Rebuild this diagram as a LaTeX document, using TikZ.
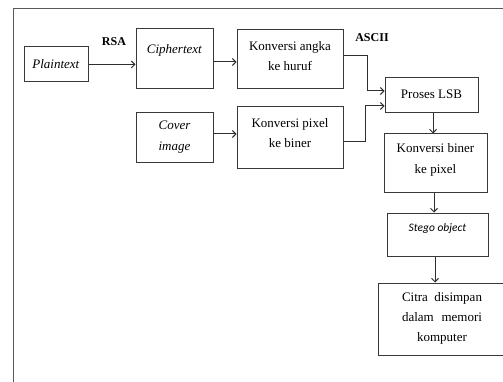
\documentclass[tikz,border=0pt]{standalone}
\usepackage{fontspec}
\setmainfont{Liberation Serif}
\newfontfamily\calib{Carlito}
\usetikzlibrary{arrows.meta}
\begin{document}
\begin{tikzpicture}[x=1pt,y=-1pt,
  box/.style={draw=black!78, line width=1pt, inner sep=0pt},
  txt/.style={font=\fontsize{13}{20}\selectfont, align=center, inner sep=0pt},
  lbl/.style={font=\fontsize{12}{14}\selectfont\bfseries, inner sep=0pt},
  flow/.style={draw=black!82, line width=1pt, -{Straight Barb[length=3.5pt,width=7pt]}}]
\useasboundingbox (0,0) rectangle (503,382);
\fill[white] (0,0) rectangle (503,382);
\draw[black!65, line width=1pt] (13,400) |- (520,9);

% boxes
\node[box, minimum width=64pt, minimum height=35pt] (plain) at (56,64.5) {};
\node[box, minimum width=77pt, minimum height=60pt] (cipher) at (174.5,59) {};
\node[box, minimum width=106pt, minimum height=59pt] (angka) at (290,59.5) {};
\node[box, minimum width=93pt, minimum height=35pt] (lsb) at (431.5,95.5) {};
\node[box, minimum width=77pt, minimum height=50pt] (cover) at (174.5,138) {};
\node[box, minimum width=106pt, minimum height=62pt] (pixel) at (290,138) {};
\node[box, minimum width=103pt, minimum height=59pt] (biner) at (435.5,163.5) {};
\node[box, minimum width=101pt, minimum height=43pt] (stego) at (437.5,234.5) {};
\node[box, minimum width=127pt, minimum height=72pt] (citra) at (441.5,319) {};

% texts
\node[txt] (tplain) at (56,64) {\textit{Plaintext}};
\node[txt] (tcipher) at (174.5,50) {\textit{Ciphertext}};
\node[txt] (tangka) at (290,56) {Konversi angka\\ke huruf};
\node[txt] (tlsb) at (431.5,94) {Proses LSB};
\node[txt, font=\fontsize{13}{21}\selectfont] (tcover) at (174.5,137.5) {\textit{Cover}\\\textit{image}};
\node[txt] (tpixel) at (290,133) {Konversi pixel\\ke biner};
\node[txt, font=\fontsize{13}{21}\selectfont] (tbiner) at (435.5,159.5) {Konversi biner\\ke pixel};
\node[txt, font=\calib\fontsize{11.5}{14}\selectfont\itshape] (tstego) at (437.5,228) {Stego object};
\node[txt] (tcitra) at (442,318.5) {\makebox[80pt][s]{Citra disimpan}\\\makebox[80pt][s]{dalam memori}\\komputer};
\node[lbl] (rsa) at (114,42) {RSA};
\node[lbl] (ascii) at (372,38) {ASCII};

% connectors
\draw[flow] (plain.east) -- (plain.east -| cipher.west);
\draw[flow] ([yshift=-3pt]cipher.east) -- ([yshift=-3pt]cipher.east -| angka.west);
\draw[flow] ([yshift=3.5pt]angka.east) -- ++(24,0) |- ([yshift=4.5pt]lsb.west);
\draw[flow] ([yshift=4pt]cover.east) -- ([yshift=4pt]cover.east -| pixel.west);
\draw[flow] ([yshift=-4pt]pixel.east) -- ++(22,0) |- ([yshift=-10.5pt]lsb.west);
\draw[flow] ([xshift=1.5pt]lsb.south) -- ([xshift=1.5pt]lsb.south |- biner.north);
\draw[flow] ([xshift=-1.5pt]biner.south) -- ([xshift=-1.5pt]biner.south |- stego.north);
\draw[flow] ([xshift=-2.5pt]stego.south) -- ([xshift=-2.5pt]stego.south |- citra.north);
\end{tikzpicture}
\end{document}
